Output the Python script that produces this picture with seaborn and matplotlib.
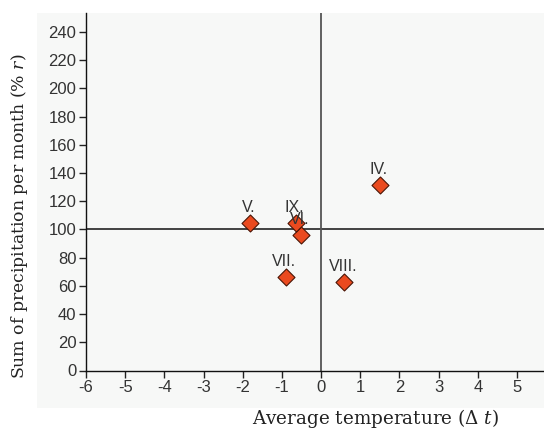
import matplotlib
matplotlib.use("Agg")
import matplotlib.pyplot as plt
import seaborn as sns
import pandas as pd
from matplotlib.patches import Rectangle

# months (roman numerals) with temperature deviation and precipitation %
months = ['IV.', 'V.', 'VI.', 'VII.', 'VIII.', 'IX.']
temp_dev = [1.5, -1.82, -0.52, -0.9, 0.59, -0.65]
precip = [131.5, 104.5, 96.0, 66.0, 62.5, 104.5]

x_ticks = list(range(-6, 6))
y_ticks = list(range(0, 260, 20))

df = pd.DataFrame({'month': months, 'temp': temp_dev, 'precip': precip})

sns.set_style('white')
plt.rcParams['font.family'] = ['Liberation Sans', 'DejaVu Sans']
plt.rcParams['mathtext.fontset'] = 'dejavuserif'
plt.rcParams['axes.unicode_minus'] = False
plt.rcParams['xtick.bottom'] = True
plt.rcParams['ytick.left'] = True
plt.rcParams['xtick.major.size'] = 5
plt.rcParams['ytick.major.size'] = 5
plt.rcParams['xtick.major.width'] = 1.0
plt.rcParams['ytick.major.width'] = 1.0

W, H = 544, 430
fig = plt.figure(figsize=(W / 100, H / 100), dpi=100)
fig.patch.set_facecolor('white')

# light grey panel behind the chart
fig.patches.append(Rectangle((37 / W, 1 - 408 / H), (W - 37) / W, (408 - 13) / H,
                             transform=fig.transFigure, facecolor='#f7f8f7',
                             edgecolor='none', zorder=-5))

ax = fig.add_axes([86 / W, 1 - 370.5 / H, (W - 86) / W, (370.5 - 13) / H])
ax.set_facecolor('none')

ax.axhline(100, color='#111111', lw=1.1, zorder=1)
ax.axvline(0, color='#555555', lw=1.3, zorder=1)

sns.scatterplot(data=df, x='temp', y='precip', marker='D', s=75,
                color='#ea4a1f', edgecolor='#4a1506', linewidth=0.8,
                ax=ax, zorder=3, legend=False)

for m, xv, yv in zip(months, temp_dev, precip):
    ax.annotate(m, (xv, yv), xytext=(-1, 6), textcoords='offset points',
                ha='center', va='bottom', fontsize=11.5, color='#333333')

ax.set_xlim(-6, 5.69)
ax.set_ylim(0, 253.5)
ax.set_xticks(x_ticks)
ax.set_yticks(y_ticks)
ax.tick_params(axis='both', which='major', direction='out', length=5, width=1.0,
               color='#222222', labelcolor='#333333', labelsize=12, pad=2,
               bottom=True, left=True)

for s in ['top', 'right']:
    ax.spines[s].set_visible(False)
for s in ['left', 'bottom']:
    ax.spines[s].set_color('#111111')
    ax.spines[s].set_linewidth(1.0)

ax.set_xlabel('')
ax.set_ylabel('')

fig.text(376 / W, 1 - 418 / H, r'Average temperature ($\Delta$ $\mathit{t}$)',
         ha='center', va='center', fontsize=13.2, family='DejaVu Serif', color='#222222')
fig.text(20 / W, 1 - 216 / H, r'Sum of precipitation per month (% $\mathit{r}$)',
         ha='center', va='center', rotation=90, fontsize=12.4,
         family='DejaVu Serif', color='#222222')

fig.savefig('out.png', dpi=100)
